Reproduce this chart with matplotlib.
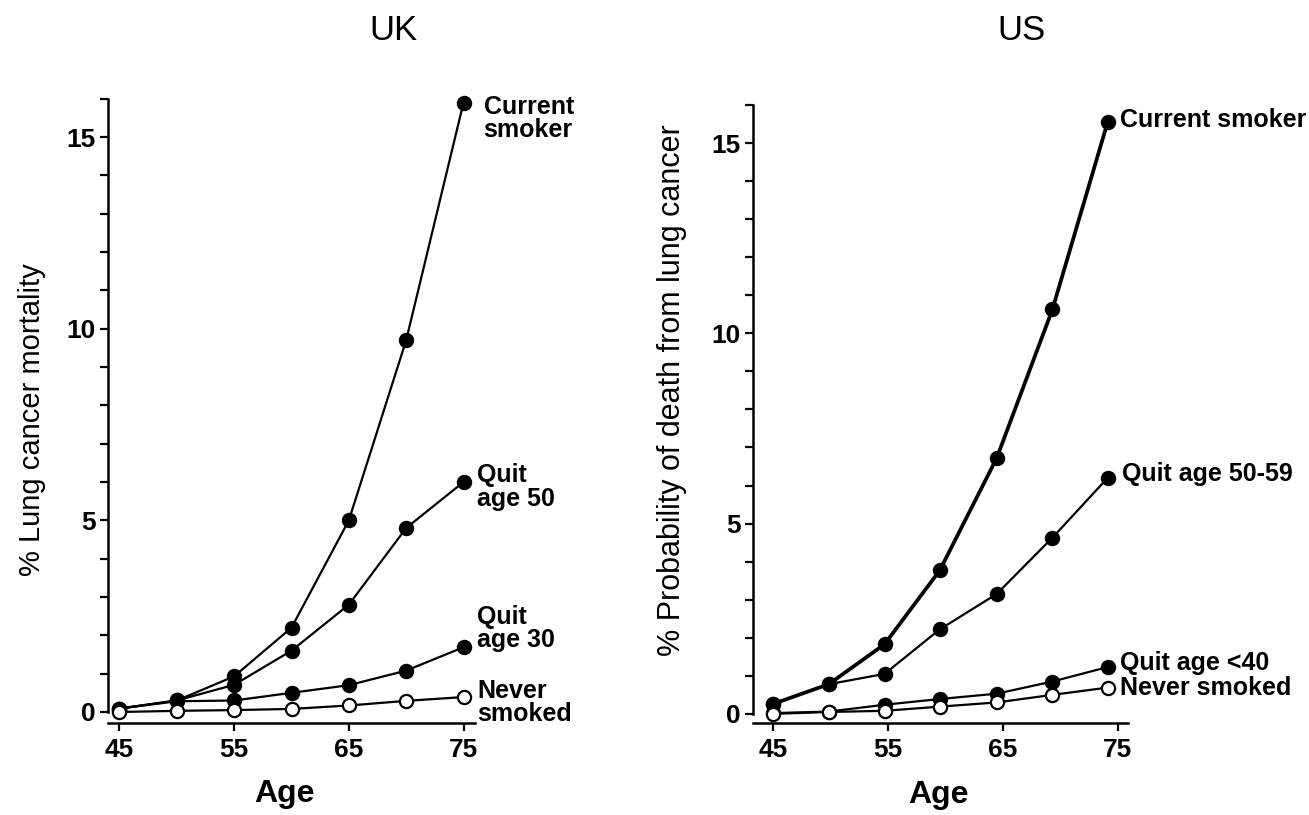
import matplotlib
matplotlib.use("Agg")
import matplotlib.pyplot as plt
from matplotlib.ticker import MultipleLocator

plt.rcParams['font.family'] = ['Liberation Sans', 'DejaVu Sans']

# ---- data ----
ages_uk = [45, 50, 55, 60, 65, 70, 75]
uk_current = [0.09, 0.3, 0.93, 2.2, 5.0, 9.7, 15.9]
uk_quit50 = [0.09, 0.3, 0.71, 1.6, 2.8, 4.8, 6.0]
uk_quit30 = [0.09, 0.28, 0.3, 0.5, 0.7, 1.08, 1.69]
uk_never = [0.0, 0.03, 0.05, 0.08, 0.17, 0.29, 0.39]

ages_us = [45, 49.85, 54.7, 59.5, 64.45, 69.3, 74.1]
us_current = [0.26, 0.78, 1.83, 3.77, 6.72, 10.63, 15.55]
us_quit50 = [0.26, 0.78, 1.05, 2.22, 3.15, 4.63, 6.2]
us_quit40 = [0.02, 0.06, 0.24, 0.39, 0.53, 0.85, 1.23]
us_never = [0.0, 0.05, 0.08, 0.19, 0.3, 0.5, 0.69]

x_ticks = [45, 55, 65, 75]
y_ticks = [0, 5, 10, 15]

W, H = 1309, 815
fig = plt.figure(figsize=(W / 100, H / 100), dpi=100)


def px_axes(x0, x1, ytop, ybot):
    return fig.add_axes([x0 / W, (H - ybot) / H, (x1 - x0) / W, (ybot - ytop) / H])


def style(ax, xlim, ylim):
    ax.set_xlim(*xlim)
    ax.set_ylim(*ylim)
    for s in ['top', 'right']:
        ax.spines[s].set_visible(False)
    for s in ['left', 'bottom']:
        ax.spines[s].set_linewidth(1.8)
    ax.spines['left'].set_bounds(0, 16)
    ax.set_xticks(x_ticks)
    ax.set_yticks(y_ticks)
    ax.yaxis.set_minor_locator(MultipleLocator(1))
    ax.tick_params(axis='both', which='both', direction='out', width=1.6, length=6,
                   labelsize=19)
    ax.tick_params(axis='y', which='minor', length=6)
    ax.tick_params(axis='y', pad=3)
    ax.tick_params(axis='x', pad=5)
    for lab in ax.get_xticklabels() + ax.get_yticklabels():
        lab.set_fontweight('bold')
    ax.patch.set_alpha(0)


def series(ax, x, y, filled=True, lw=1.6):
    ax.plot(x, y, color='black', lw=lw, marker='o', ms=9.5,
            mfc='black' if filled else 'white', mec='black', mew=1.6,
            zorder=3 if filled else 4, clip_on=False)


lab_kw = dict(fontsize=18, fontweight='bold', ha='left', va='center',
              textcoords='offset pixels', linespacing=0.95, annotation_clip=False)

# ---- UK ----
ax1 = px_axes(108, 475, 98.7, 723)
style(ax1, (44, 76), (-0.287, 16))
series(ax1, ages_uk, uk_current)
series(ax1, ages_uk, uk_quit50)
series(ax1, ages_uk, uk_quit30)
series(ax1, ages_uk, uk_never, filled=False)
ax1.annotate('Current\nsmoker', (ages_uk[-1], uk_current[-1]), xytext=(20, -16), **lab_kw)
ax1.annotate('Quit\nage 50', (ages_uk[-1], uk_quit50[-1]), xytext=(13, -5), **lab_kw)
ax1.annotate('Quit\nage 30', (ages_uk[-1], uk_quit30[-1]), xytext=(13, 19), **lab_kw)
ax1.annotate('Never\nsmoked', (ages_uk[-1], uk_never[-1]), xytext=(14, -5), **lab_kw)

# ---- US ----
ax2 = px_axes(753, 1128, 105, 723)
style(ax2, (43.26, 75.87), (-0.24, 16))
series(ax2, ages_us, us_current, lw=2.7)
series(ax2, ages_us, us_quit50)
series(ax2, ages_us, us_quit40)
series(ax2, ages_us, us_never, filled=False)
ax2.annotate('Current smoker', (ages_us[-1], us_current[-1]), xytext=(12, 2), **lab_kw)
ax2.annotate('Quit age 50-59', (ages_us[-1], us_quit50[-1]), xytext=(14, 4), **lab_kw)
ax2.annotate('Quit age <40', (ages_us[-1], us_quit40[-1]), xytext=(12, 4), **lab_kw)
ax2.annotate('Never smoked', (ages_us[-1], us_never[-1]), xytext=(12, 0), **lab_kw)

# ---- figure text ----
fig.text(393 / W, 1 - 30 / H, 'UK', fontsize=25, ha='center', va='center')
fig.text(1022 / W, 1 - 30 / H, 'US', fontsize=25, ha='center', va='center')
fig.text(284 / W, 1 - 794 / H, 'Age', fontsize=23, fontweight='bold', ha='center', va='center')
fig.text(938 / W, 1 - 795 / H, 'Age', fontsize=23, fontweight='bold', ha='center', va='center')
fig.text(32 / W, 1 - 420 / H, '% Lung cancer mortality', fontsize=21, rotation=90,
         ha='center', va='center')
fig.text(672 / W, 1 - 390 / H, '% Probability of death from lung cancer', fontsize=22,
         rotation=90, ha='center', va='center')

fig.savefig('out.png', dpi=100)
